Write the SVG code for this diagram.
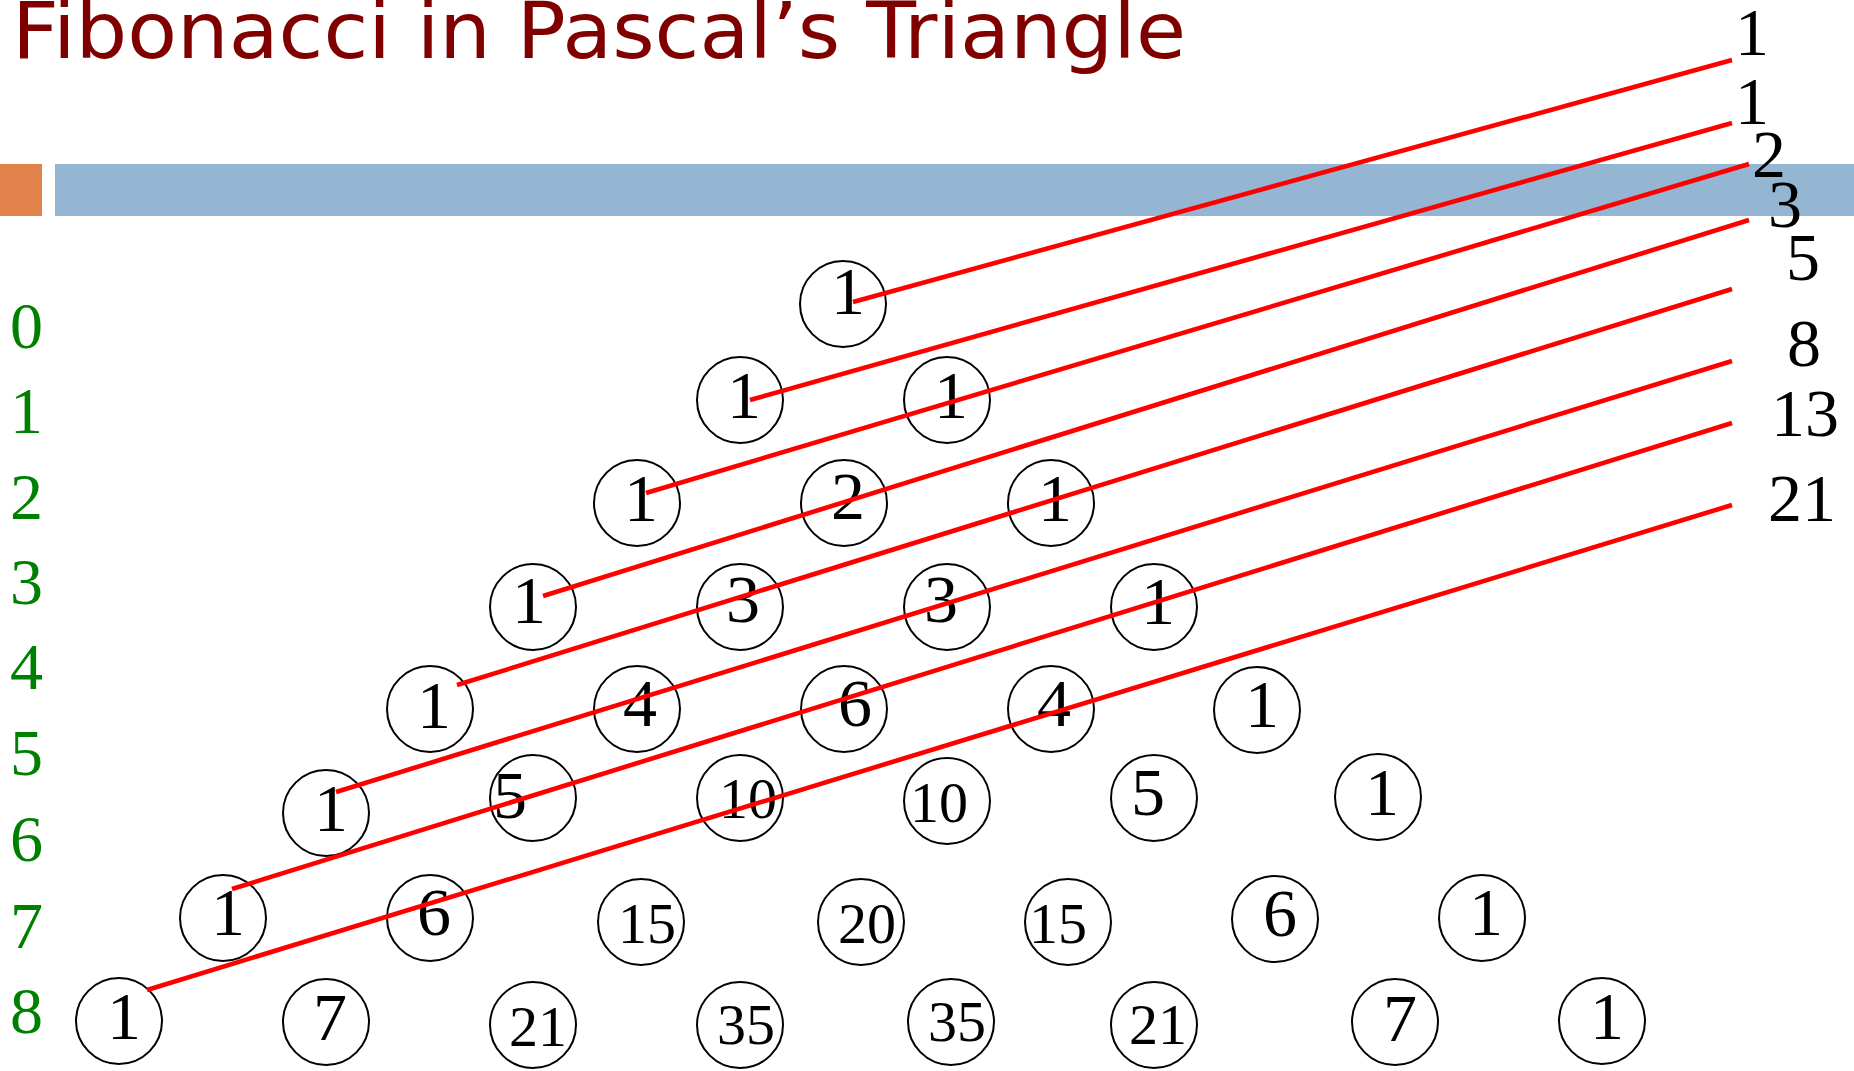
<svg xmlns="http://www.w3.org/2000/svg" width="1854" height="1071" viewBox="0 0 1854 1071">
<style>
.bg{fill:#ffffff}
.title{font-family:"DejaVu Sans","Liberation Sans",sans-serif;font-size:78px;fill:#800000}
.row{font-family:"Liberation Serif","Times New Roman",serif;font-size:66px;fill:#008000}
.node ellipse{fill:none;stroke:#000000;stroke-width:2}
.node text{font-family:"Liberation Serif","Times New Roman",serif;font-size:68px;fill:#000000;text-anchor:middle}
.node text.d2{font-size:58px}
.fib text{font-family:"Liberation Serif","Times New Roman",serif;font-size:68px;fill:#000000;text-anchor:middle}
.conn line{stroke:#ff0000;stroke-width:4.6;stroke-linecap:butt}
</style>
<rect class="bg" x="0" y="0" width="1854" height="1071"/>
<text class="title" x="12" y="58" textLength="1174" lengthAdjust="spacingAndGlyphs">Fibonacci in Pascal’s Triangle</text>
<rect x="0" y="164" width="42" height="52" fill="#E0824A"/>
<rect x="55" y="164" width="1799" height="52" fill="#94B6D3"/>
<g id="row-labels">
<text class="row" x="10" y="348">0</text>
<text class="row" x="10" y="433">1</text>
<text class="row" x="10" y="519">2</text>
<text class="row" x="10" y="604">3</text>
<text class="row" x="10" y="689">4</text>
<text class="row" x="10" y="775">5</text>
<text class="row" x="10" y="861">6</text>
<text class="row" x="10" y="948">7</text>
<text class="row" x="10" y="1033">8</text>
</g>
<g id="n0-0" class="node"><ellipse cx="843" cy="304" rx="43" ry="43"/><text x="848" y="314">1</text></g>
<g id="n1-0" class="node"><ellipse cx="740" cy="400" rx="43" ry="43"/><text x="744" y="418">1</text></g>
<g id="n1-1" class="node"><ellipse cx="947" cy="400" rx="43" ry="43"/><text x="951" y="418">1</text></g>
<g id="n2-0" class="node"><ellipse cx="637" cy="503" rx="43" ry="43"/><text x="641" y="521">1</text></g>
<g id="n2-1" class="node"><ellipse cx="844" cy="503" rx="43" ry="43"/><text x="848" y="519">2</text></g>
<g id="n2-2" class="node"><ellipse cx="1051" cy="503" rx="43" ry="43"/><text x="1055" y="521">1</text></g>
<g id="n3-0" class="node"><ellipse cx="533" cy="607" rx="43" ry="43"/><text x="529" y="623">1</text></g>
<g id="n3-1" class="node"><ellipse cx="740" cy="607" rx="43" ry="43"/><text x="743" y="622">3</text></g>
<g id="n3-2" class="node"><ellipse cx="947" cy="607" rx="43" ry="43"/><text x="941" y="622">3</text></g>
<g id="n3-3" class="node"><ellipse cx="1154" cy="607" rx="43" ry="43"/><text x="1158" y="624">1</text></g>
<g id="n4-0" class="node"><ellipse cx="430" cy="709" rx="43" ry="43"/><text x="434" y="728">1</text></g>
<g id="n4-1" class="node"><ellipse cx="637" cy="709" rx="43" ry="43"/><text x="640" y="726">4</text></g>
<g id="n4-2" class="node"><ellipse cx="844" cy="709" rx="43" ry="43"/><text x="855" y="726">6</text></g>
<g id="n4-3" class="node"><ellipse cx="1051" cy="709" rx="43" ry="43"/><text x="1054" y="726">4</text></g>
<g id="n4-4" class="node"><ellipse cx="1257" cy="710" rx="43" ry="43"/><text x="1262" y="727">1</text></g>
<g id="n5-0" class="node"><ellipse cx="326" cy="813" rx="43" ry="43"/><text x="331" y="831">1</text></g>
<g id="n5-1" class="node"><ellipse cx="533" cy="798" rx="43" ry="43"/><text x="510" y="818">5</text></g>
<g id="n5-2" class="node"><ellipse cx="740" cy="798" rx="43" ry="43"/><text class="d2" x="748" y="818">10</text></g>
<g id="n5-3" class="node"><ellipse cx="947" cy="801" rx="43" ry="43"/><text class="d2" x="939" y="822">10</text></g>
<g id="n5-4" class="node"><ellipse cx="1154" cy="798" rx="43" ry="43"/><text x="1148" y="815">5</text></g>
<g id="n5-5" class="node"><ellipse cx="1378" cy="797" rx="43" ry="43"/><text x="1382" y="815">1</text></g>
<g id="n6-0" class="node"><ellipse cx="223" cy="918" rx="43" ry="43"/><text x="228" y="935">1</text></g>
<g id="n6-1" class="node"><ellipse cx="430" cy="918" rx="43" ry="43"/><text x="434" y="935">6</text></g>
<g id="n6-2" class="node"><ellipse cx="641" cy="922" rx="43" ry="43"/><text class="d2" x="647" y="943">15</text></g>
<g id="n6-3" class="node"><ellipse cx="861" cy="922" rx="43" ry="43"/><text class="d2" x="867" y="943">20</text></g>
<g id="n6-4" class="node"><ellipse cx="1068" cy="922" rx="43" ry="43"/><text class="d2" x="1058" y="943">15</text></g>
<g id="n6-5" class="node"><ellipse cx="1275" cy="919" rx="43" ry="43"/><text x="1280" y="936">6</text></g>
<g id="n6-6" class="node"><ellipse cx="1482" cy="918" rx="43" ry="43"/><text x="1486" y="935">1</text></g>
<g id="n7-0" class="node"><ellipse cx="119" cy="1021" rx="43" ry="43"/><text x="124" y="1039">1</text></g>
<g id="n7-1" class="node"><ellipse cx="326" cy="1022" rx="43" ry="43"/><text x="330" y="1040">7</text></g>
<g id="n7-2" class="node"><ellipse cx="533" cy="1025" rx="43" ry="43"/><text class="d2" x="538" y="1046">21</text></g>
<g id="n7-3" class="node"><ellipse cx="740" cy="1025" rx="43" ry="43"/><text class="d2" x="746" y="1044">35</text></g>
<g id="n7-4" class="node"><ellipse cx="951" cy="1022" rx="43" ry="43"/><text class="d2" x="957" y="1041">35</text></g>
<g id="n7-5" class="node"><ellipse cx="1154" cy="1025" rx="43" ry="43"/><text class="d2" x="1158" y="1044">21</text></g>
<g id="n7-6" class="node"><ellipse cx="1395" cy="1022" rx="43" ry="43"/><text x="1400" y="1041">7</text></g>
<g id="n7-7" class="node"><ellipse cx="1602" cy="1021" rx="43" ry="43"/><text x="1607" y="1039">1</text></g>
<g id="connectors" class="conn">
<line x1="853" y1="302" x2="1732" y2="60"/>
<line x1="750" y1="400" x2="1732" y2="123"/>
<line x1="646" y1="493" x2="1749" y2="164"/>
<line x1="543" y1="596" x2="1749" y2="220"/>
<line x1="457" y1="685" x2="1732" y2="289"/>
<line x1="336" y1="792" x2="1732" y2="361"/>
<line x1="232" y1="889" x2="1732" y2="423"/>
<line x1="147" y1="990" x2="1732" y2="505"/>
</g>
<g id="fib" class="fib">
<text x="1752" y="55">1</text>
<text x="1752" y="124">1</text>
<text x="1769" y="177">2</text>
<text x="1785" y="227">3</text>
<text x="1803" y="280">5</text>
<text x="1804" y="366">8</text>
<text x="1805" y="436">13</text>
<text x="1802" y="521">21</text>
</g>
</svg>
